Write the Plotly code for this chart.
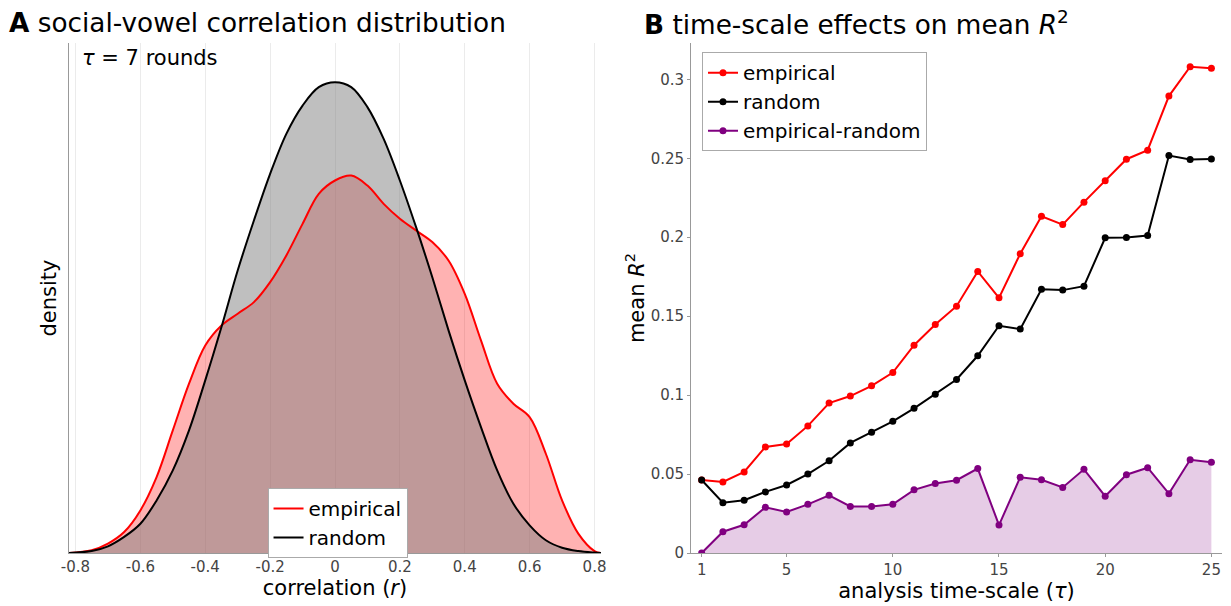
import plotly.graph_objects as go

# panel A: density curves
r_grid = [-0.82, -0.75, -0.7, -0.65, -0.6, -0.55, -0.5, -0.45, -0.4, -0.35, -0.3, -0.25, -0.2,
          -0.15, -0.1, -0.05, 0.0, 0.05, 0.1, 0.15, 0.2, 0.25, 0.3, 0.35, 0.4, 0.45, 0.5,
          0.55, 0.6, 0.65, 0.7, 0.75, 0.8, 0.82]
dens_empirical = [0, 0.014, 0.048, 0.107, 0.217, 0.387, 0.625, 0.863, 1.058, 1.160, 1.220, 1.279,
                  1.381, 1.517, 1.678, 1.831, 1.899, 1.924, 1.873, 1.780, 1.704, 1.644, 1.585,
                  1.491, 1.321, 1.084, 0.863, 0.761, 0.693, 0.506, 0.268, 0.099, 0.010, 0]
dens_random = [0, 0.010, 0.034, 0.082, 0.149, 0.268, 0.421, 0.625, 0.880, 1.152, 1.440, 1.695,
               1.933, 2.137, 2.281, 2.375, 2.400, 2.375, 2.273, 2.111, 1.899, 1.661, 1.406,
               1.135, 0.880, 0.642, 0.421, 0.251, 0.141, 0.065, 0.027, 0.010, 0.002, 0]

# panel B: mean R^2 by analysis time-scale
tau = list(range(1, 26))
r2_empirical = [0.0462, 0.0450, 0.0513, 0.0672, 0.0690, 0.0805, 0.0950, 0.0994, 0.1059, 0.1143,
                0.1316, 0.1447, 0.1563, 0.1783, 0.1616, 0.1895, 0.2133, 0.2080, 0.2222, 0.2357,
                0.2494, 0.2551, 0.2894, 0.3080, 0.3070]
r2_random = [0.0462, 0.0319, 0.0334, 0.0387, 0.0431, 0.0500, 0.0584, 0.0697, 0.0765, 0.0834,
             0.0916, 0.1006, 0.1099, 0.1249, 0.1439, 0.1418, 0.1671, 0.1665, 0.1690, 0.1996,
             0.1998, 0.2011, 0.2517, 0.2492, 0.2496]
r2_diff = [0.0, 0.0135, 0.0179, 0.0289, 0.0260, 0.0308, 0.0365, 0.0295, 0.0295, 0.0308,
           0.0400, 0.0440, 0.0461, 0.0535, 0.0177, 0.0480, 0.0464, 0.0415, 0.0530, 0.0360,
           0.0496, 0.0540, 0.0376, 0.0590, 0.0575]

a_ticks = [-0.8, -0.6, -0.4, -0.2, 0, 0.2, 0.4, 0.6, 0.8]
a_ticktext = ["-0.8", "-0.6", "-0.4", "-0.2", "0", "0.2", "0.4", "0.6", "0.8"]
b_xticks = [1, 5, 10, 15, 20, 25]
b_yticks = [0, 0.05, 0.1, 0.15, 0.2, 0.25, 0.3]
b_yticktext = ["0", "0.05", "0.1", "0.15", "0.2", "0.25", "0.3"]

FONT = "DejaVu Sans"
AXIS_GRAY = "#999999"
TICK_FONT = dict(size=15, color="#444")

fig = go.Figure()

# panel A fills first, lines on top of both fills
fig.add_trace(go.Scatter(
    x=r_grid, y=dens_empirical, mode="lines", line=dict(width=0, shape="spline"),
    fill="tozeroy", fillcolor="rgba(255,0,0,0.3)", showlegend=False, hoverinfo="skip"))
fig.add_trace(go.Scatter(
    x=r_grid, y=dens_random, mode="lines", line=dict(width=0, shape="spline"),
    fill="tozeroy", fillcolor="rgba(128,128,128,0.5)", showlegend=False, hoverinfo="skip"))
fig.add_trace(go.Scatter(
    x=r_grid, y=dens_empirical, name="empirical", mode="lines",
    line=dict(color="red", width=2, shape="spline"), legend="legend"))
fig.add_trace(go.Scatter(
    x=r_grid, y=dens_random, name="random", mode="lines",
    line=dict(color="black", width=2, shape="spline"), legend="legend"))

fig.add_trace(go.Scatter(
    x=tau, y=r2_empirical, name="empirical", mode="lines+markers",
    line=dict(color="red", width=2), marker=dict(color="red", size=7),
    xaxis="x2", yaxis="y2", legend="legend2"))
fig.add_trace(go.Scatter(
    x=tau, y=r2_random, name="random", mode="lines+markers",
    line=dict(color="black", width=2), marker=dict(color="black", size=7),
    xaxis="x2", yaxis="y2", legend="legend2"))
fig.add_trace(go.Scatter(
    x=tau, y=r2_diff, name="empirical-random", mode="lines+markers",
    line=dict(color="purple", width=2), marker=dict(color="purple", size=7),
    fill="tozeroy", fillcolor="rgba(128,0,128,0.2)",
    xaxis="x2", yaxis="y2", showlegend=False))
# legend entry for the difference without the fill swatch
fig.add_trace(go.Scatter(
    x=[None], y=[None], name="empirical-random", mode="lines+markers",
    line=dict(color="purple", width=2), marker=dict(color="purple", size=7),
    xaxis="x2", yaxis="y2", legend="legend2"))

fig.update_layout(
    width=1231, height=606,
    margin=dict(l=69, r=9, t=43, b=53),
    paper_bgcolor="white", plot_bgcolor="white",
    font=dict(family=FONT, color="black"),
    xaxis=dict(domain=[0, 0.4614], range=[-0.82, 0.82], automargin=False,
               tickvals=a_ticks, ticktext=a_ticktext,
               showgrid=True, gridcolor="#ebebeb", gridwidth=1, zeroline=False,
               showline=True, linecolor=AXIS_GRAY, linewidth=1, ticks="",
               tickfont=TICK_FONT,
               title=dict(text="correlation (<i>r</i>)", font=dict(size=21), standoff=2)),
    yaxis=dict(domain=[0, 1], range=[0, 2.6], showticklabels=False, ticks="",
               automargin=False, showgrid=False, zeroline=False,
               showline=True, linecolor=AXIS_GRAY, linewidth=1,
               title=dict(text="density", font=dict(size=21), standoff=5)),
    xaxis2=dict(domain=[0.5395, 1], range=[0.5, 25.5], anchor="y2", automargin=False,
                tickvals=b_xticks, showgrid=False, zeroline=False,
                showline=True, linecolor=AXIS_GRAY, linewidth=1,
                ticks="outside", ticklen=3, tickcolor=AXIS_GRAY,
                tickfont=TICK_FONT,
                title=dict(text="analysis time-scale (<i>τ</i>)", font=dict(size=21), standoff=2)),
    yaxis2=dict(domain=[0, 1], range=[0, 0.323], anchor="x2", automargin=False,
                tickvals=b_yticks, ticktext=b_yticktext, showgrid=False, zeroline=False,
                showline=True, linecolor=AXIS_GRAY, linewidth=1,
                ticks="outside", ticklen=3, tickcolor=AXIS_GRAY,
                tickfont=TICK_FONT,
                title=dict(text="mean <i>R</i><sup>2</sup>", font=dict(size=21), standoff=0)),
    legend=dict(x=0.2329, y=0.1275, xanchor="center", yanchor="top",
                bgcolor="white", bordercolor="#aaaaaa", borderwidth=1,
                font=dict(size=20), itemwidth=30, tracegroupgap=0),
    legend2=dict(x=0.549, y=0.982, xanchor="left", yanchor="top",
                 bgcolor="white", bordercolor="#aaaaaa", borderwidth=1,
                 font=dict(size=20), itemwidth=30, tracegroupgap=0),
    annotations=[
        dict(text="<b>A</b> social-vowel correlation distribution", x=-0.0538, y=1.039,
             xref="paper", yref="paper", xanchor="left", yanchor="middle",
             showarrow=False, font=dict(size=26.3)),
        dict(text="<b>B</b> time-scale effects on mean <i>R</i><sup>2</sup>", x=0.497, y=1.039,
             xref="paper", yref="paper", xanchor="left", yanchor="middle",
             showarrow=False, font=dict(size=26.3)),
        dict(text="<i>τ</i> = 7 rounds", x=0.0095, y=0.9706,
             xref="paper", yref="paper", xanchor="left", yanchor="middle",
             showarrow=False, font=dict(size=21)),
    ],
)

# drop the default page margin so the figure sits at the window's corner
fig.write_html("out.html", config={"displayModeBar": False},
               post_script="document.body.style.margin='0';")
